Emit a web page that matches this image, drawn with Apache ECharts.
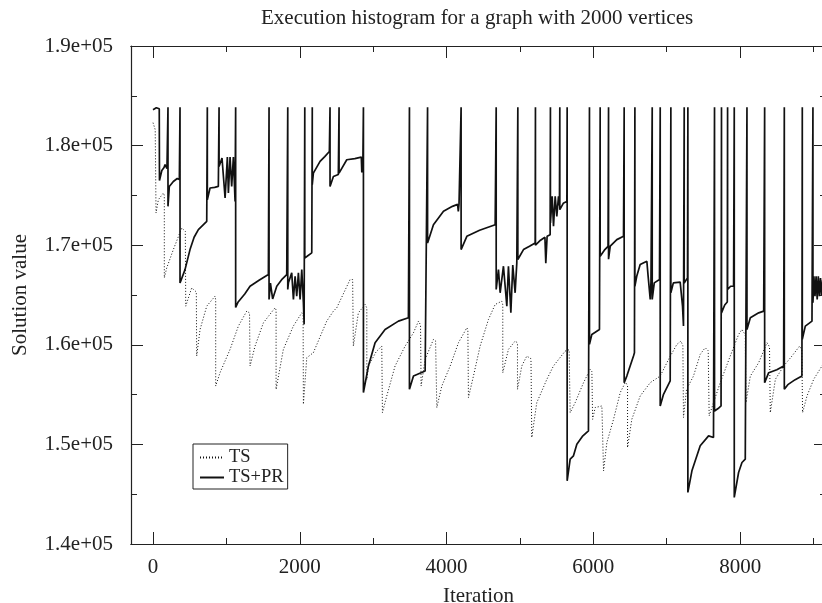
<!DOCTYPE html>
<html>
<head>
<meta charset="utf-8">
<script src="https://cdn.jsdelivr.net/npm/echarts@6/dist/echarts.min.js"></script>
<style>
  html, body { margin: 0; padding: 0; background: #fff; }
  #chart { width: 822px; height: 603px; }
</style>
</head>
<body>
<div id="chart"></div>
<script>
// x tick labels (major) and minor tick positions
var xMajor = [0, 2000, 4000, 6000, 8000];
var xMinor = [1000, 3000, 5000, 7000, 9000];

// TS (dotted) : [iteration, solution value]
var tsPoints = [
    [0, 182300], [30, 181600], [41, 181500], [41, 173230], [73, 174570], [141, 175240],
    [154, 175000], [154, 166720], [187, 167725], [277, 169560], [391, 171730], [440, 171400],
    [446, 171300], [446, 163880], [527, 165720], [590, 165300],
    [595, 165200], [595, 158870], [641, 161540], [732, 163880], [845, 164880],
    [854, 164500], [854, 155860], [913, 157200], [1050, 159540], [1163, 161880], [1277, 163380], [1315, 163200],
    [1322, 163100], [1322, 157870], [1390, 159870], [1504, 162210], [1663, 163720],
    [1677, 163500], [1677, 155530], [1776, 159540], [1912, 161880], [2027, 163210], [2045, 163000],
    [2049, 163000], [2049, 154030], [2095, 158700], [2185, 159210], [2367, 162380], [2458, 163380],
    [2504, 163720], [2685, 166550], [2720, 166550],
    [2730, 166400], [2730, 159870], [2798, 163210], [2890, 164050],
    [2913, 163700], [2913, 156500], [2935, 157870], [3040, 159300], [3117, 159870],
    [3126, 159800], [3126, 153190], [3185, 154860], [3298, 157870], [3435, 159870], [3549, 161210],
    [3617, 162375], [3645, 162000],
    [3653, 162000], [3653, 155860], [3708, 158540], [3821, 160540], [3850, 160400],
    [3867, 160300], [3867, 153700], [3935, 155860], [4049, 157870], [4162, 160210], [4276, 161710], [4290, 161500],
    [4298, 161500], [4298, 154700], [4366, 156860], [4457, 159870], [4571, 162550], [4662, 164050], [4753, 164380],
    [4766, 164000], [4766, 157200], [4843, 159540], [4934, 160370], [4955, 160200],
    [4966, 160200], [4966, 155530], [5025, 157870], [5093, 158870], [5116, 158870], [5150, 158600],
    [5161, 158600], [5161, 150690], [5229, 154190], [5366, 156530], [5456, 157870], [5616, 159370], [5670, 159500],
    [5684, 159300], [5684, 153190], [5752, 154190], [5866, 156200], [5957, 157540], [5980, 157300],
    [5990, 157300], [5990, 152520], [6025, 153700], [6116, 153860], [6130, 153700],
    [6139, 153700], [6139, 147345], [6184, 150180], [6275, 152520], [6366, 155200], [6434, 156200], [6455, 156000],
    [6466, 156000], [6466, 149690], [6524, 152520], [6638, 154860], [6775, 156200], [6911, 156860],
    [7025, 158540], [7138, 160040], [7193, 160370], [7220, 159900],
    [7228, 159900], [7228, 152700], [7270, 155530], [7364, 156860], [7456, 159040], [7524, 159710], [7565, 159400],
    [7578, 159400], [7578, 152870], [7637, 154190], [7729, 156200], [7865, 158870], [7979, 161040],
    [8025, 161540], [8070, 161000],
    [8079, 161000], [8079, 154190], [8139, 156860], [8253, 158210], [8366, 160210], [8400, 159800],
    [8411, 159800], [8411, 153190], [8480, 156530], [8593, 157870], [8706, 158870], [8810, 159870], [8840, 159500],
    [8851, 159500], [8851, 153190], [8911, 154860], [9002, 156530], [9115, 157870], [9170, 158400]
];

// TS+PR (solid) : [iteration, solution value], restarts spike to 183860
var prPoints = [
    [0, 183600], [45, 183800], [85, 183700],
    [88, 176500], [120, 177500], [150, 177800], [164, 178100], [190, 177700],
    [204, 183860], [204, 173900], [222, 175900], [277, 176400], [330, 176700], [359, 176600],
    [368, 183860], [368, 166200], [436, 167550], [504, 169560], [560, 170800], [618, 171560], [732, 172400],
    [740, 183860], [740, 174570], [777, 175740], [840, 175800], [890, 175900],
    [900, 183860], [900, 177900], [913, 177910], [940, 178750], [982, 174740], [1013, 178850],
    [1027, 175240], [1050, 178850], [1072, 175900], [1095, 178850], [1118, 174400],
    [1126, 183860], [1126, 163750], [1160, 164300], [1250, 165100], [1322, 165880], [1450, 166500], [1572, 167050],
    [1581, 183860], [1581, 164550], [1600, 166200], [1630, 164600], [1686, 165880], [1760, 166600], [1822, 167050],
    [1836, 183860], [1836, 165550], [1845, 166220], [1890, 167220], [1913, 164550], [1936, 166880],
    [1958, 164880], [1981, 167220], [2004, 164550], [2027, 167550], [2049, 164220], [2059, 162050],
    [2068, 183860], [2068, 168720], [2100, 168890], [2163, 169230],
    [2170, 183860], [2170, 176070], [2185, 177240], [2276, 178410], [2340, 178900], [2403, 179410],
    [2412, 183860], [2412, 175900], [2458, 176900], [2525, 177100],
    [2535, 183860], [2535, 177240], [2640, 178580], [2750, 178700], [2838, 178850], [2845, 177300], [2860, 178700],
    [2867, 183860], [2867, 155200], [2935, 157870], [3026, 160210], [3162, 161540], [3344, 162375], [3480, 162710],
    [3494, 183860], [3494, 155530], [3549, 156860], [3708, 157370], [3735, 157500],
    [3741, 183860], [3741, 170230], [3821, 172060], [3958, 173400], [4080, 173900], [4150, 174100],
    [4160, 173400], [4170, 174200], [4185, 174240],
    [4198, 183860], [4198, 169560], [4276, 170890], [4450, 171500], [4662, 172060],
    [4676, 183860], [4676, 165550], [4707, 167555], [4730, 165220], [4775, 167890], [4821, 163880],
    [4843, 167890], [4876, 163210], [4902, 168000], [4934, 165220], [4957, 168225],
    [4971, 183860], [4971, 168560], [5048, 169560], [5130, 169900], [5207, 170230],
    [5211, 183860], [5211, 170000], [5280, 170500], [5340, 170800], [5352, 168200], [5370, 170900], [5411, 171060],
    [5415, 183860], [5415, 172230], [5439, 174900], [5457, 171900], [5480, 174900], [5502, 172900],
    [5525, 174900], [5538, 174000],
    [5543, 183860], [5543, 173570], [5590, 174200], [5639, 174400],
    [5643, 183860], [5643, 146340], [5684, 148520], [5729, 148850], [5775, 150020], [5850, 150800], [5933, 151350],
    [5947, 183860], [5947, 160040], [5979, 161040], [6083, 161540],
    [6093, 183860], [6093, 168890], [6150, 169500], [6200, 169890],
    [6207, 183860], [6207, 168600], [6230, 169900], [6320, 170560], [6411, 170890],
    [6420, 183860], [6420, 156200], [6456, 156860], [6547, 158870], [6560, 159200],
    [6566, 183860], [6566, 165880], [6591, 166880], [6638, 168060], [6729, 168390], [6745, 167000],
    [6775, 164550], [6785, 166300], [6795, 166220],
    [6802, 183860], [6802, 164550], [6830, 166220], [6901, 166550],
    [6911, 183860], [6911, 153860], [6956, 155030], [7047, 156370],
    [7056, 183860], [7056, 165220], [7090, 166220], [7183, 166300], [7215, 163880], [7228, 161880],
    [7238, 183860], [7238, 166200], [7283, 166720],
    [7288, 183860], [7288, 145180], [7343, 147345], [7456, 149860], [7570, 150860], [7637, 150690],
    [7651, 183860], [7651, 153360], [7700, 153600], [7740, 153860],
    [7746, 183860], [7746, 163200], [7790, 164000], [7825, 164300],
    [7829, 183860], [7829, 165550], [7870, 165880], [7911, 165880],
    [7920, 183860], [7920, 144680], [7979, 147180], [8025, 148180], [8070, 148520],
    [8093, 183860], [8093, 161540], [8139, 162710], [8253, 163210], [8321, 163380],
    [8334, 183860], [8334, 156200], [8389, 157200], [8500, 157500], [8593, 157870],
    [8602, 183860], [8602, 155530], [8650, 156000], [8750, 156500], [8842, 156860],
    [8847, 183860], [8847, 160540], [8888, 161880], [8979, 162375],
    [8992, 183860], [8992, 164220], [9005, 166880], [9020, 164880], [9035, 166880], [9050, 164550],
    [9065, 166880], [9080, 164880], [9095, 166700], [9110, 165000], [9125, 166500], [9140, 165200]
];

var chart = echarts.init(document.getElementById('chart'));
var font = 'Liberation Serif';
var ink = '#222';

function xAxisOf(pos, ticks, len, labels) {
    return {
        type: 'value', position: pos, min: -300, max: 9170,
        axisLine: {show: true, onZero: false, lineStyle: {color: ink, width: 1.2}},
        axisTick: {show: true, inside: true, length: len, customValues: ticks, lineStyle: {color: ink}},
        axisLabel: labels ? {
            customValues: ticks, margin: 13, color: ink, fontFamily: font, fontSize: 21,
            formatter: function (v) { return String(v); }
        } : {show: false},
        splitLine: {show: false}
    };
}
function yAxisOf(pos, labels) {
    return {
        type: 'value', position: pos, min: 140000, max: 190000, interval: 10000,
        axisLine: {show: true, onZero: false, lineStyle: {color: ink, width: 1.2}},
        axisTick: {show: true, inside: true, length: 12, lineStyle: {color: ink}},
        minorTick: {show: true, splitNumber: 2, length: 6, lineStyle: {color: ink}},
        axisLabel: labels ? {
            margin: 18, color: ink, fontFamily: font, fontSize: 21,
            formatter: function (v) { return (v / 100000).toFixed(1) + 'e+05'; }
        } : {show: false},
        splitLine: {show: false}
    };
}

var bottom = xAxisOf('bottom', xMajor, 12, true);
bottom.name = 'Iteration';
bottom.nameLocation = 'middle';
bottom.nameGap = 42;
bottom.nameTextStyle = {color: ink, fontFamily: font, fontSize: 21};
var left = yAxisOf('left', true);
left.name = 'Solution value';
left.nameLocation = 'middle';
left.nameGap = 100;
left.nameTextStyle = {color: ink, fontFamily: font, fontSize: 21};

var option = {
    animation: false,
    backgroundColor: '#fff',
    title: {
        text: 'Execution histogram for a graph with 2000 vertices',
        left: 256, top: 3,
        textStyle: {color: ink, fontFamily: font, fontSize: 21, fontWeight: 'normal'}
    },
    legend: {
        data: ['TS', 'TS+PR'],
        orient: 'vertical', left: 193, top: 444,
        itemWidth: 24, itemHeight: 12, itemGap: 1,
        padding: [4, 4, 2, 6],
        borderColor: ink, borderWidth: 1,
        itemStyle: {color: 'transparent', borderColor: 'transparent', borderWidth: 0},
        textStyle: {color: ink, fontFamily: font, fontSize: 18.5}
    },
    grid: {left: 131, top: 46, width: 695, height: 498, containLabel: false, outerBoundsMode: 'none'},
    xAxis: [
        bottom,
        xAxisOf('bottom', xMinor, 6, false),
        xAxisOf('top', xMajor, 12, false),
        xAxisOf('top', xMinor, 6, false)
    ],
    yAxis: [left, yAxisOf('right', false)],
    series: [
        {
            name: 'TS', type: 'line', xAxisIndex: 0, yAxisIndex: 0,
            data: tsPoints, symbol: 'none', showSymbol: false,
            lineStyle: {color: '#111', width: 1, type: [1, 2]},
            itemStyle: {color: '#111'}
        },
        {
            name: 'TS+PR', type: 'line', xAxisIndex: 0, yAxisIndex: 0,
            data: prPoints, symbol: 'none', showSymbol: false,
            lineStyle: {color: '#111', width: 1.7},
            itemStyle: {color: '#111'}
        }
    ]
};

chart.setOption(option);
</script>
</body>
</html>
